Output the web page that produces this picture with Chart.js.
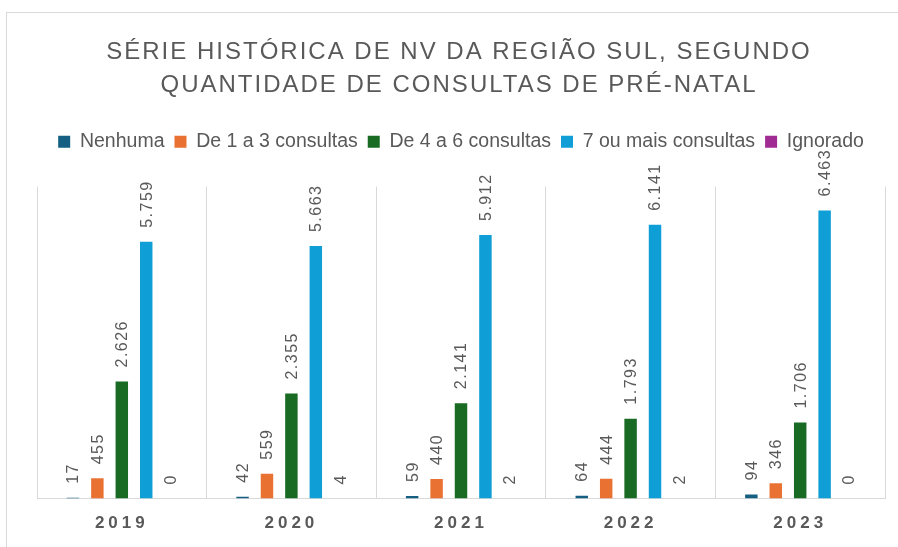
<!DOCTYPE html>
<html>
<head>
<meta charset="utf-8">
<script src="https://cdn.jsdelivr.net/npm/chart.js@4/dist/chart.umd.min.js"></script>
<style>
  html, body { margin: 0; padding: 0; background: #fff; }
  #wrap { position: relative; width: 898px; height: 547px; overflow: hidden; }
  #frame { position: absolute; left: 6px; top: 12px; width: 1000px; height: 600px; border: 1px solid #d9d9d9; }
  #chart { position: absolute; left: 0; top: 0; }
</style>
</head>
<body>
<div id="wrap">
  <div id="frame"></div>
  <canvas id="chart" width="898" height="547"></canvas>
</div>
<script>
const years = ['2019', '2020', '2021', '2022', '2023'];
const nenhuma = [17, 42, 59, 64, 94];
const de1a3 = [455, 559, 440, 444, 346];
const de4a6 = [2626, 2355, 2141, 1793, 1706];
const seteOuMais = [5759, 5663, 5912, 6141, 6463];
const ignorado = [0, 4, 2, 2, 0];

const titleLines = ['SÉRIE HISTÓRICA DE NV DA REGIÃO SUL, SEGUNDO', 'QUANTIDADE DE CONSULTAS DE PRÉ-NATAL'];
const grey = '#595959';
const baseFont = "'Liberation Sans', Arial, sans-serif";

// pt-BR thousands separator
function fmt(v) {
	return String(v).replace(/\B(?=(\d{3})+(?!\d))/g, '.');
}

const titlePlugin = {
	id: 'spacedTitle',
	beforeDraw(chart) {
		const ctx = chart.ctx;
		ctx.save();
		ctx.font = '24px ' + baseFont;
		ctx.letterSpacing = '2px';
		ctx.fillStyle = grey;
		ctx.textAlign = 'center';
		ctx.textBaseline = 'middle';
		ctx.fillText(titleLines[0], 459, 52);
		ctx.fillText(titleLines[1], 459, 85);
		ctx.restore();
	}
};

const valueLabels = {
	id: 'valueLabels',
	afterDatasetsDraw(chart) {
		const ctx = chart.ctx;
		ctx.save();
		ctx.font = '16px ' + baseFont;
		ctx.letterSpacing = '1.5px';
		ctx.fillStyle = grey;
		ctx.textAlign = 'left';
		ctx.textBaseline = 'middle';
		chart.data.datasets.forEach((ds, i) => {
			const meta = chart.getDatasetMeta(i);
			meta.data.forEach((bar, j) => {
				ctx.save();
				ctx.translate(bar.x + 1, bar.y - 14);
				ctx.rotate(-Math.PI / 2);
				ctx.fillText(fmt(ds.data[j]), 0, 0);
				ctx.restore();
			});
		});
		ctx.restore();
		// spaced-out year labels are drawn in the tick layer (z: 1) right after this
		ctx.letterSpacing = '4px';
	},
	afterDraw(chart) {
		chart.ctx.letterSpacing = '0px';
	}
};

const legendGap = {
	id: 'legendGap',
	beforeInit(chart) {
		const fit = chart.legend.fit;
		chart.legend.fit = function () {
			fit.call(this);
			this.height += 25;
		};
	}
};

new Chart(document.getElementById('chart'), {
	type: 'bar',
	data: {
		labels: years,
		datasets: [
			{ label: 'Nenhuma', data: nenhuma, backgroundColor: '#156082' },
			{ label: 'De 1 a 3 consultas', data: de1a3, backgroundColor: '#e97132' },
			{ label: 'De 4 a 6 consultas', data: de4a6, backgroundColor: '#196b24' },
			{ label: '7 ou mais consultas', data: seteOuMais, backgroundColor: '#0f9ed5' },
			{ label: 'Ignorado', data: ignorado, backgroundColor: '#a02b93' }
		]
	},
	options: {
		responsive: false,
		animation: false,
		events: [],
		categoryPercentage: 0.72,
		barPercentage: 0.51,
		layout: { padding: { top: 122, left: 37, right: 13, bottom: -2 } },
		plugins: {
			title: { display: false },
			tooltip: { enabled: false },
			legend: {
				position: 'top',
				labels: {
					boxWidth: 12,
					boxHeight: 12,
					padding: 10,
					color: grey,
					font: { family: baseFont, size: 19.5 }
				}
			}
		},
		scales: {
			x: {
				grid: { offset: true, color: '#d9d9d9', drawTicks: false },
				border: { color: '#d9d9d9' },
				ticks: {
					z: 1,
					padding: 15,
					color: grey,
					font: { family: baseFont, size: 17, weight: 'bold' }
				}
			},
			y: { display: false, min: 0, max: 7000 }
		}
	},
	plugins: [titlePlugin, valueLabels, legendGap]
});
</script>
</body>
</html>
